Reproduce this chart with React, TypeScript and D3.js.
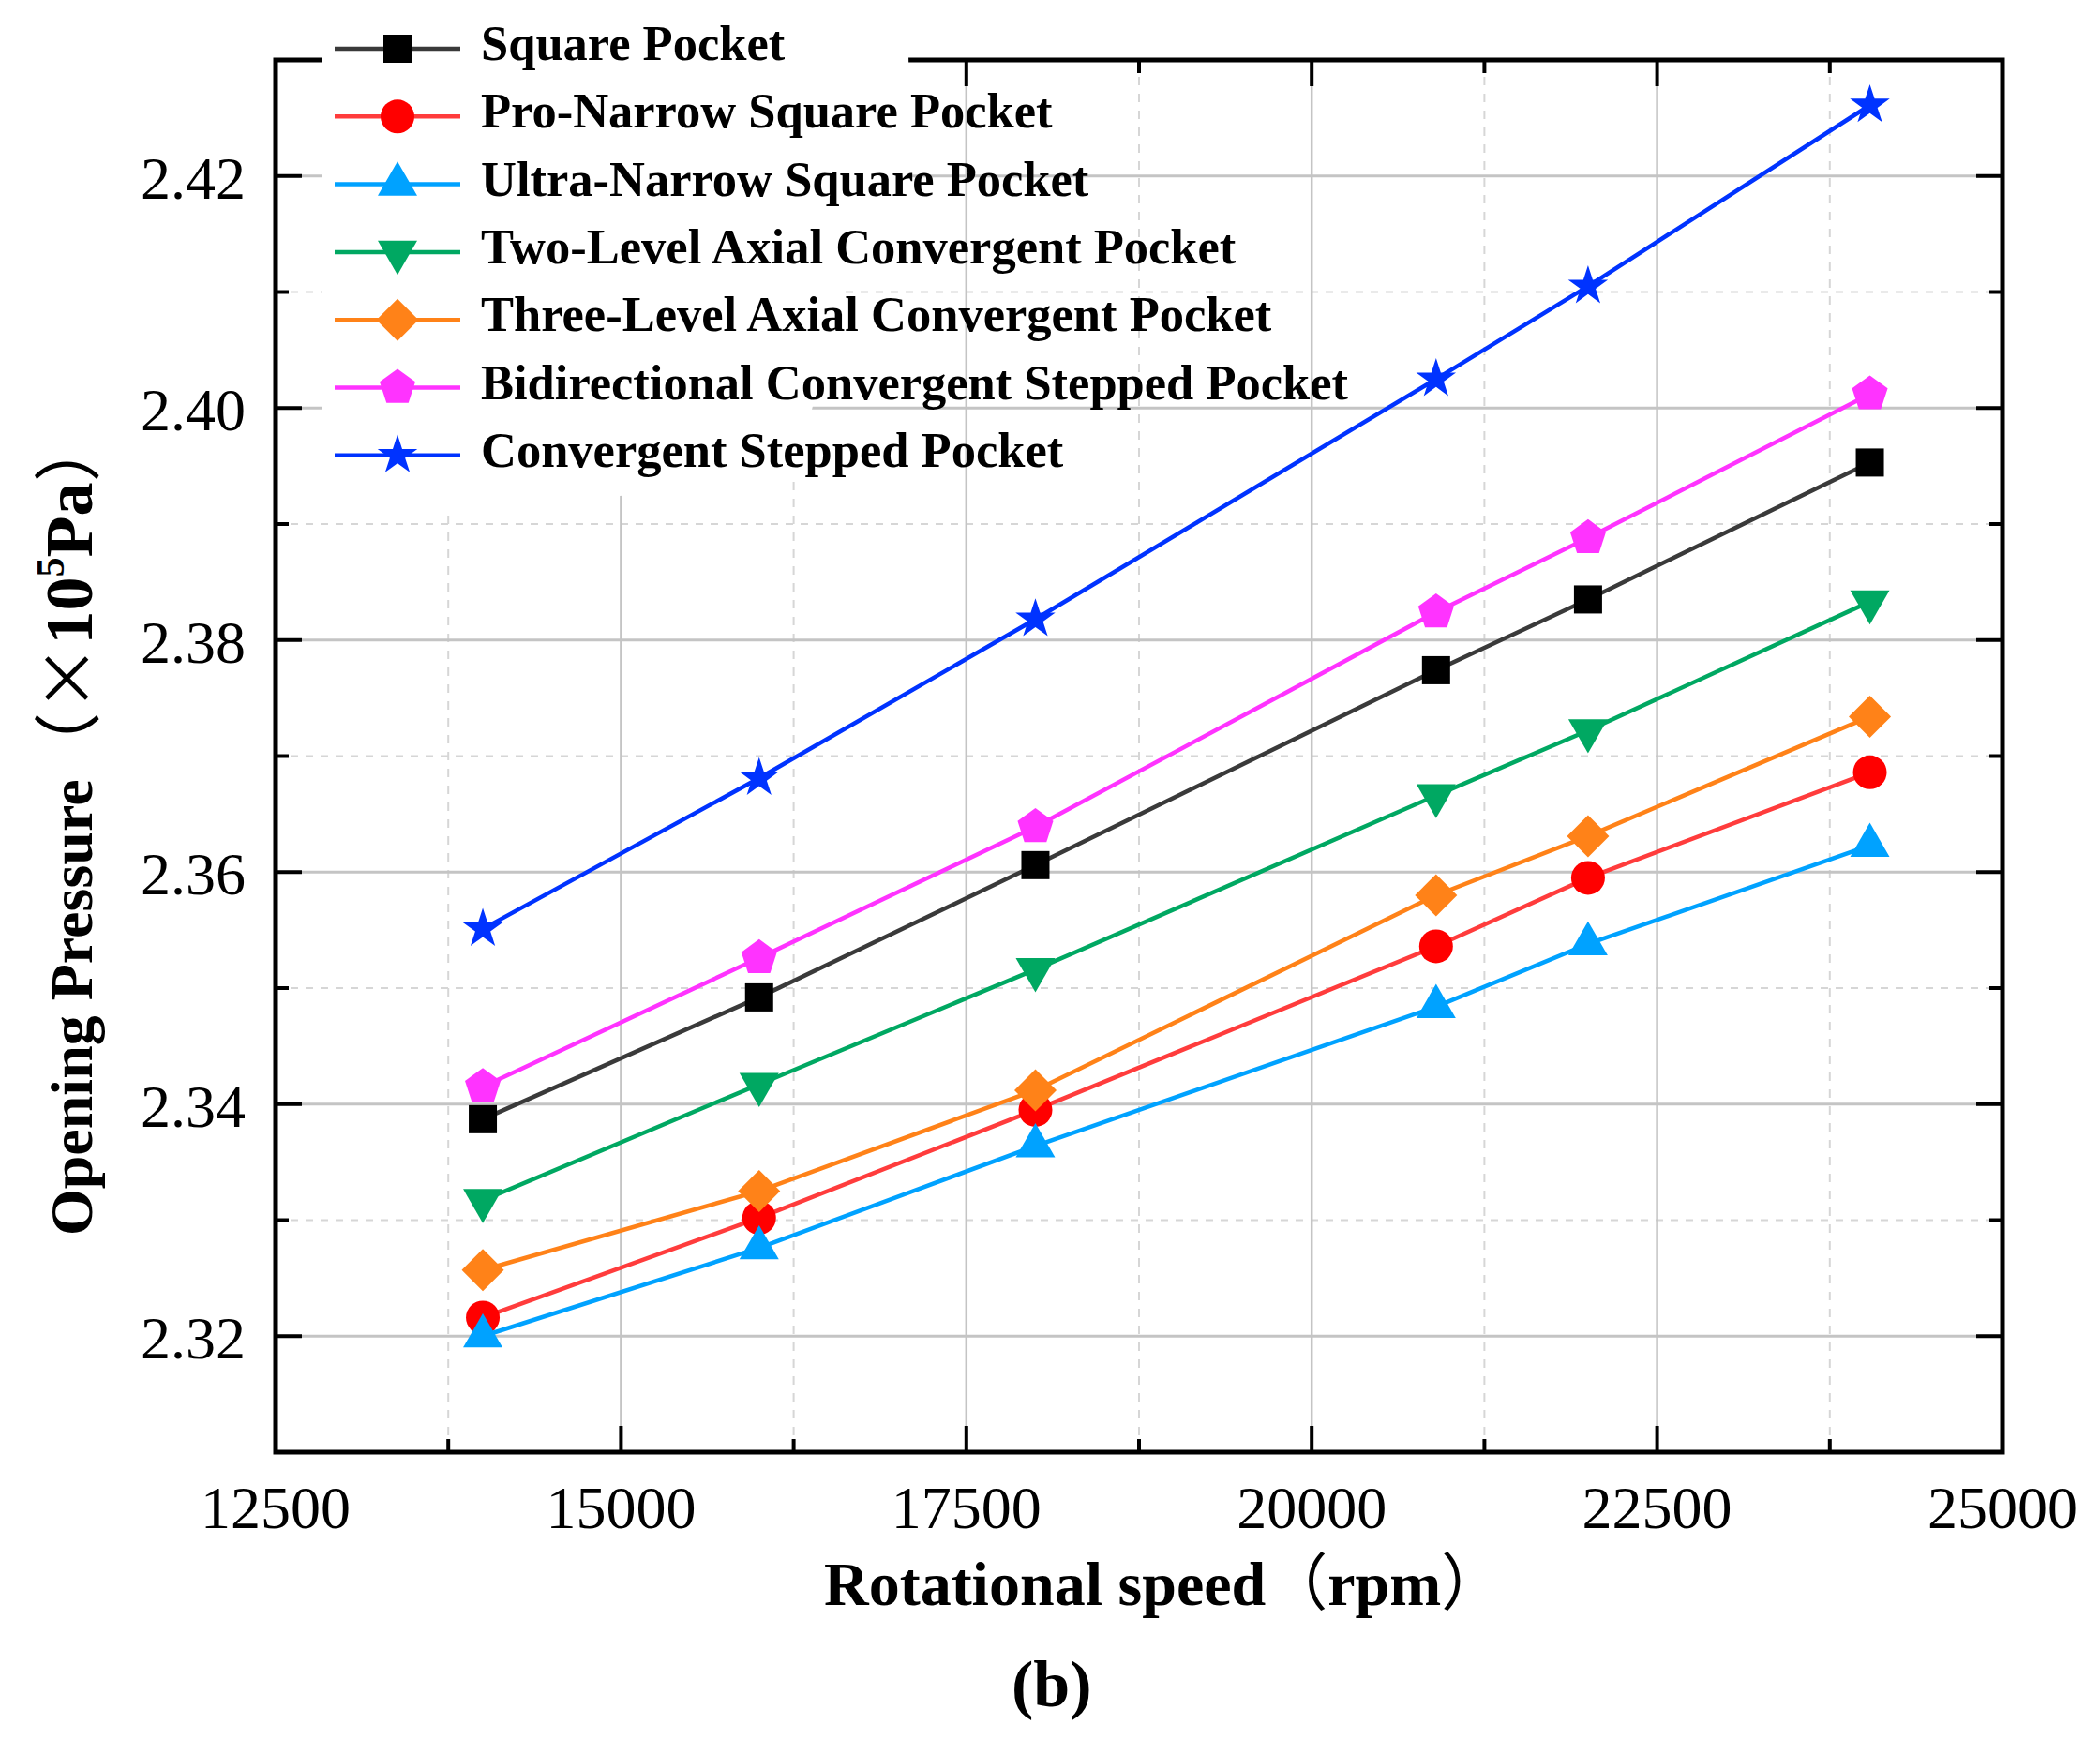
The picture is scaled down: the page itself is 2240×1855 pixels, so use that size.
import React from 'react';
import * as d3 from 'd3';

// ---------- data ----------
const speeds = [14000, 16000, 18000, 20900, 22000, 24040];
const squarePocket = [2.3387, 2.3492, 2.3606, 2.3774, 2.3835, 2.3953];
const proNarrow = [2.3216, 2.3302, 2.3395, 2.3536, 2.3595, 2.3686];
const ultraNarrow = [2.32, 2.3276, 2.3364, 2.3484, 2.3538, 2.3623];
const twoLevel = [2.3317, 2.3417, 2.3516, 2.3666, 2.3722, 2.3833];
const threeLevel = [2.3257, 2.3325, 2.3412, 2.358, 2.3631, 2.3734];
const bidirectional = [2.3415, 2.3526, 2.3639, 2.3824, 2.3888, 2.4012];
const convergentStepped = [2.3551, 2.3681, 2.3818, 2.4025, 2.4105, 2.4261];

const seriesLabels = [
  'Square Pocket',
  'Pro-Narrow Square Pocket',
  'Ultra-Narrow Square Pocket',
  'Two-Level Axial Convergent Pocket',
  'Three-Level Axial Convergent Pocket',
  'Bidirectional Convergent Stepped Pocket',
  'Convergent Stepped Pocket',
];

const xTicks = [12500, 15000, 17500, 20000, 22500, 25000];
const xMinorTicks = [13750, 16250, 18750, 21250, 23750];
const yTicks = [2.32, 2.34, 2.36, 2.38, 2.4, 2.42];
const yMinorTicks = [2.33, 2.35, 2.37, 2.39, 2.41];
const xDomain = [12500, 25000];
const yDomain = [2.31, 2.43];

// ---------- layout ----------
const W = 2240;
const H = 1855;
const L = 294, R = 2136, T = 64, B = 1549;

const x = d3.scaleLinear().domain(xDomain).range([L, R]);
const y = d3.scaleLinear().domain(yDomain).range([B, T]);

const symbolPentagon = {
  draw(ctx: any, size: number) {
    const r = Math.sqrt(size / 2.3776);
    for (let i = 0; i < 5; i++) {
      const a = -Math.PI / 2 + (i * 2 * Math.PI) / 5;
      const px = r * Math.cos(a);
      const py = r * Math.sin(a);
      if (i === 0) ctx.moveTo(px, py);
      else ctx.lineTo(px, py);
    }
    ctx.closePath();
  },
};

const seriesData = [squarePocket, proNarrow, ultraNarrow, twoLevel, threeLevel, bidirectional, convergentStepped];
const styles = [
  { color: '#000000', line: '#3a3a3a', sym: d3.symbolSquare, size: 900, rot: 0 },
  { color: '#ff0000', line: '#ff3c3c', sym: d3.symbolCircle, size: 1018, rot: 0 },
  { color: '#00a2ff', line: '#00a2ff', sym: d3.symbolTriangle, size: 763, rot: 0 },
  { color: '#00a862', line: '#00a862', sym: d3.symbolTriangle, size: 763, rot: 180 },
  { color: '#ff8218', line: '#ff8218', sym: d3.symbolDiamond2, size: 1291, rot: 0 },
  { color: '#ff33ff', line: '#ff33ff', sym: symbolPentagon, size: 951, rot: 0 },
  { color: '#0033ff', line: '#0033ff', sym: d3.symbolStar, size: 560, rot: 0 },
];

const serif = '"Liberation Serif", "Times New Roman", serif';
const cjk = '"Noto Sans CJK SC", sans-serif';

export default function App() {
  if (typeof document !== 'undefined') document.body.style.margin = '0';
  const lineGen = d3
    .line<[number, number]>()
    .x((d) => x(d[0]))
    .y((d) => y(d[1]));

  const legendRow0 = 52;
  const legendStep = 72.3;

  return (
    <svg width={W} height={H} style={{ position: 'absolute', left: 0, top: 0, background: '#fff' }}>
      <rect x={0} y={0} width={W} height={H} fill="#fff" />
      {/* minor grid */}
      {xMinorTicks.map((t) => (
        <line key={'xm' + t} x1={x(t)} x2={x(t)} y1={T} y2={B} stroke="#d6d6d6" strokeWidth={2} strokeDasharray="9 9" />
      ))}
      {yMinorTicks.map((t) => (
        <line key={'ym' + t} x1={L} x2={R} y1={y(t)} y2={y(t)} stroke="#d6d6d6" strokeWidth={2} strokeDasharray="8 8" />
      ))}
      {/* major grid */}
      {xTicks.slice(1, -1).map((t) => (
        <line key={'xg' + t} x1={x(t)} x2={x(t)} y1={T} y2={B} stroke="#c4c4c4" strokeWidth={2.5} />
      ))}
      {yTicks.map((t) => (
        <line key={'yg' + t} x1={L} x2={R} y1={y(t)} y2={y(t)} stroke="#c4c4c4" strokeWidth={3} />
      ))}
      {/* ticks */}
      {xTicks.slice(1, -1).map((t) => (
        <g key={'xt' + t}>
          <line x1={x(t)} x2={x(t)} y1={B} y2={B - 28} stroke="#000" strokeWidth={4} />
          <line x1={x(t)} x2={x(t)} y1={T} y2={T + 28} stroke="#000" strokeWidth={4} />
        </g>
      ))}
      {xMinorTicks.map((t) => (
        <g key={'xmt' + t}>
          <line x1={x(t)} x2={x(t)} y1={B} y2={B - 14} stroke="#000" strokeWidth={4} />
          <line x1={x(t)} x2={x(t)} y1={T} y2={T + 14} stroke="#000" strokeWidth={4} />
        </g>
      ))}
      {yTicks.map((t) => (
        <g key={'yt' + t}>
          <line x1={L} x2={L + 28} y1={y(t)} y2={y(t)} stroke="#000" strokeWidth={4} />
          <line x1={R} x2={R - 28} y1={y(t)} y2={y(t)} stroke="#000" strokeWidth={4} />
        </g>
      ))}
      {yMinorTicks.map((t) => (
        <g key={'ymt' + t}>
          <line x1={L} x2={L + 14} y1={y(t)} y2={y(t)} stroke="#000" strokeWidth={4} />
          <line x1={R} x2={R - 14} y1={y(t)} y2={y(t)} stroke="#000" strokeWidth={4} />
        </g>
      ))}
      {/* frame */}
      <rect x={L} y={T} width={R - L} height={B - T} fill="none" stroke="#000" strokeWidth={5} />

      {/* tick labels */}
      {xTicks.map((t) => (
        <text key={'xl' + t} x={x(t)} y={1630} textAnchor="middle" fontFamily={serif} fontSize={64} fill="#000">
          {String(t)}
        </text>
      ))}
      {yTicks.map((t) => (
        <text key={'yl' + t} x={262} y={y(t) + 24} textAnchor="end" fontFamily={serif} fontSize={64} fill="#000">
          {t.toFixed(2)}
        </text>
      ))}

      {/* axis titles */}
      <text x={879} y={1712} fontFamily={serif} fontWeight="bold" fontSize={66} fill="#000">
        Rotational speed
        <tspan fontFamily={cjk} fontWeight="normal">（</tspan>
        rpm
        <tspan fontFamily={cjk} fontWeight="normal">）</tspan>
      </text>
      <text transform="translate(98,1318) rotate(-90)" fontFamily={serif} fontWeight="bold" fontSize={64} fill="#000">
        Opening Pressure
        <tspan fontFamily={cjk} fontWeight="normal" fontSize={72}>（×</tspan>
        <tspan fontSize={72}>10</tspan>
        <tspan fontSize={42} dy={-30}>5</tspan>
        <tspan fontSize={72} dy={30}>Pa</tspan>
        <tspan fontFamily={cjk} fontWeight="normal" fontSize={72}>）</tspan>
      </text>
      <text x={1079} y={1820} fontFamily={serif} fontWeight="bold" fontSize={70} fill="#000">
        (b)
      </text>

      {/* legend background */}
      <polygon points="343,12 968,12 972,195 897,311 866,437 862,508 478,548 343,552" fill="#fff" />

      {/* series */}
      {seriesData.map((vals, i) => {
        const st = styles[i];
        const pts: [number, number][] = speeds.map((s, j) => [s, vals[j]]);
        const path = d3.symbol().type(st.sym as any).size(st.size)() as string;
        return (
          <g key={'s' + i}>
            <path d={lineGen(pts) as string} fill="none" stroke={st.line} strokeWidth={4.5} />
            {pts.map((p, j) => (
              <path
                key={j}
                d={path}
                fill={st.color}
                transform={`translate(${x(p[0])},${y(p[1])}) rotate(${st.rot})`}
              />
            ))}
          </g>
        );
      })}

      {/* legend */}
      {seriesLabels.map((lab, i) => {
        const st = styles[i];
        const ly = legendRow0 + i * legendStep;
        const path = d3.symbol().type(st.sym as any).size(st.size)() as string;
        return (
          <g key={'lg' + i}>
            <line x1={357} x2={491} y1={ly} y2={ly} stroke={st.line} strokeWidth={4.5} />
            <path d={path} fill={st.color} transform={`translate(424,${ly}) rotate(${st.rot})`} />
            <text x={513} y={ly + 12} fontFamily={serif} fontWeight="bold" fontSize={52.5} fill="#000">
              {lab}
            </text>
          </g>
        );
      })}
    </svg>
  );
}
